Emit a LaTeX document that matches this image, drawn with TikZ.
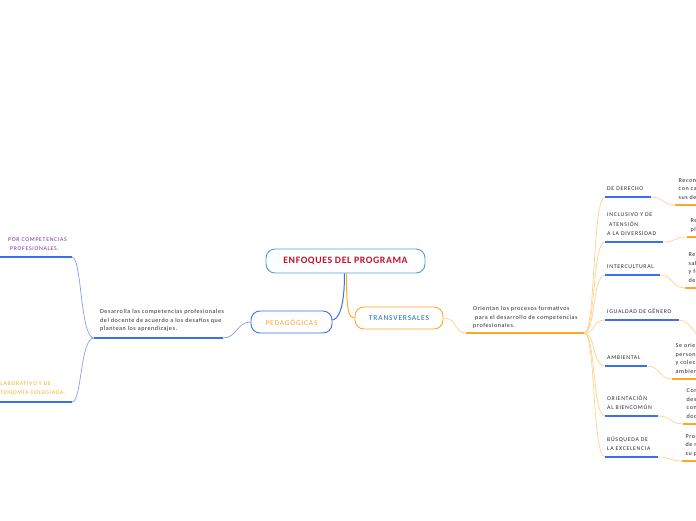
\documentclass[tikz,border=0pt]{standalone}
\usepackage{fontspec}
\setmainfont{Carlito}
\usetikzlibrary{positioning}
\definecolor{celeste}{HTML}{4A9FE0}
\definecolor{carmesi}{HTML}{C8102E}
\definecolor{azul}{HTML}{3A6FF0}
\definecolor{azulclaro}{HTML}{7FA0F5}
\definecolor{azultexto}{HTML}{1A6EB5}
\definecolor{naranja}{HTML}{FFA726}
\definecolor{naranjaclaro}{HTML}{FFD28F}
\definecolor{morado}{HTML}{7030A0}
\definecolor{amarillo}{HTML}{F5B21E}
\definecolor{gris}{HTML}{2B2B2B}

\begin{document}
\begin{tikzpicture}[x=1pt,y=-1pt,
  caja/.style={draw,line width=0.9pt,rounded corners=9pt,fill=white,inner sep=0pt},
  subrayado/.style={line width=2pt},
  enlace/.style={line width=0.7pt},
  etiqueta/.style={inner sep=0pt,anchor=south west,align=left,text=gris,text depth=0pt,
    font=\fontsize{5.8}{9.7}\selectfont\addfontfeature{LetterSpace=12}},
  nota/.style={inner sep=0pt,anchor=south west,align=left,text=gris,text depth=0pt,
    font=\fontsize{6.1}{8.5}\selectfont\addfontfeature{LetterSpace=9}}]
  \useasboundingbox (0,0) rectangle (696,520);
  \clip (0,0) rectangle (696,520);
  % nodos principales
  \node[caja,draw=celeste,text=carmesi,minimum width=159pt,minimum height=24pt,
    font=\bfseries\fontsize{9.8}{11}\selectfont\addfontfeature{LetterSpace=6}] (raiz) at (345.5,261) {ENFOQUES DEL PROGRAMA};
  \node[caja,draw=azul,text=naranja,minimum width=81pt,minimum height=22pt,
    font=\fontsize{7.5}{9}\selectfont\addfontfeature{LetterSpace=10}] (ped) at (291.5,322) {PEDAGÓGICAS};
  \node[caja,draw=naranja,text=azultexto,minimum width=88pt,minimum height=22pt,
    font=\fontsize{7.5}{9}\selectfont\addfontfeature{LetterSpace=11}] (tra) at (399,318) {TRANSVERSALES};
  \draw[azul,line width=1pt] ([xshift=-1pt]raiz.south) .. controls +(0,38) and +(5,-1) .. ([yshift=2pt]ped.east);
  \draw[naranja,line width=1pt] ([xshift=1pt]raiz.south) .. controls +(0,38) and +(-6,0) .. (tra.west);
  % rama pedagogicas
  \coordinate (pedA) at (223,338);
  \coordinate (hubP) at (94,338);
  \draw[azulclaro,enlace] (ped.west) .. controls +(-14,0) and +(14,0) .. (pedA);
  \draw[subrayado,azul] (pedA) -- (hubP);
  \node[nota] (nPed) at (100,331) {Desarrolla las competencias profesionales\\del docente de acuerdo a los desafíos que\\plantean los aprendizajes.};
  \coordinate (izqA) at (72,257);
  \coordinate (izqA0) at (-5,257);
  \coordinate (izqB) at (72,402);
  \coordinate (izqB0) at (-5,402);
  \draw[azulclaro,enlace] (hubP) .. controls (80,338) and (82,257) .. (izqA);
  \draw[azulclaro,enlace] (hubP) .. controls (80,338) and (82,402) .. (izqB);
  \draw[subrayado,azul] (izqA) -- (izqA0);
  \draw[subrayado,azul] (izqB) -- (izqB0);
  \node[etiqueta,text=morado] (lA) at (8,251) {POR COMPETENCIAS\\\ PROFESIONALES.};
  \node[etiqueta,text=amarillo] (lB) at (-8,395) {COLABORATIVO Y DE\\AUTONOMÍA COLEGIADA.};
  % rama transversales
  \coordinate (traA) at (466,333);
  \coordinate (hubT) at (584,333);
  \draw[naranjaclaro,enlace] (tra.east) .. controls +(14,0) and +(-12,0) .. (traA);
  \draw[subrayado,naranja] (traA) -- (hubT);
  \node[nota] (nTra) at (473,328) {Orientan los procesos formativos\\\ para el desarrollo de competencias\\profesionales.};
  \foreach \n/\y/\xa/\etq/\yb/\xb/\txt in {
    1/197/651/{DE DERECHO}/205/675/{Reconoce a las personas\\con capacidad de ejercer\\sus derechos.},
    2/242/663/{INCLUSIVO Y DE\\\ ATENSIÓN\\A LA DIVERSIDAD}/237/687/{Reconoce y valora\\plenamente la diversidad.},
    3/275/660/{INTERCULTURAL}/288/685/{Reconoce y valora\\saberes, prácticas\\y formas de vida\\de diversas culturas.},
    4/320/679/{IGUALDAD DE GÉNERO}/345/712/{},
    5/366/647/{AMBIENTAL}/379/672/{Se orienta a la formación de\\personas que asumen individual\\y colectivamente el cuidado del\\ambiente.},
    6/416/658/{ORIENTACIÓN\\AL BIENCOMÚN}/424/683/{Contribuye al\\desarrollo de\\conductas\\docentes éticas.},
    7/457/658/{BÚSQUEDA DE\\LA EXCELENCIA}/461/682/{Promueve el logro\\de metas para\\su propio desarrollo.}}
  {
    \coordinate (e\n) at (605,\y);
    \coordinate (f\n) at (\xa,\y);
    \coordinate (g\n) at (\xb,\yb);
    \coordinate (h\n) at (700,\yb);
    \draw[naranjaclaro,enlace] (hubT) .. controls (596,333) and (592,\y) .. (e\n);
    \draw[subrayado,azul] (e\n) -- (f\n);
    \node[etiqueta] (t\n) at (607,\y-6) {\etq};
    \draw[naranjaclaro,enlace] (f\n) .. controls +(13,0) and +(-13,0) .. (g\n);
    \draw[subrayado,naranja] (g\n) -- (h\n);
    \node[nota] (d\n) at (\xb+3.5,\yb-5.5) {\txt};
  }
\end{tikzpicture}
\end{document}
